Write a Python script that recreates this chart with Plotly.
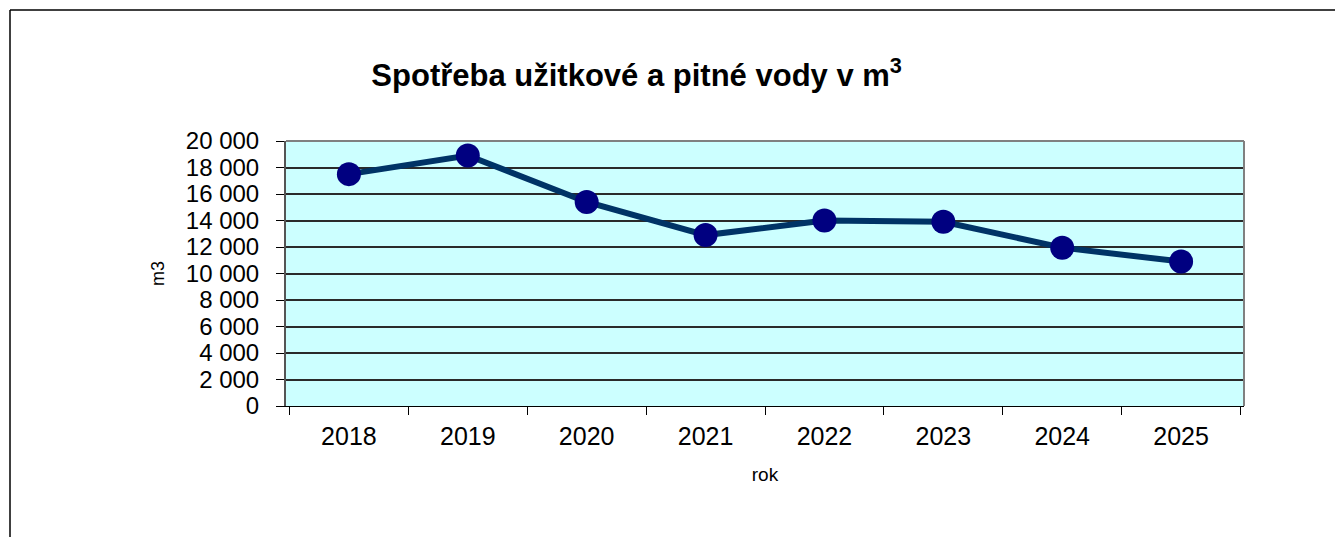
import plotly.graph_objects as go

# data
years = ["2018", "2019", "2020", "2021", "2022", "2023", "2024", "2025"]
water_m3 = [17500, 18900, 15400, 12900, 14000, 13900, 11950, 10900]

fig = go.Figure()

fig.add_trace(go.Scatter(
    x=years,
    y=water_m3,
    mode="lines+markers",
    line=dict(color="#003366", width=6),
    marker=dict(color="#000080", size=24, line=dict(width=0)),
    showlegend=False,
    cliponaxis=False,
))

# outer frame of the chart object (top and left edges visible)
fig.add_shape(type="line", xref="paper", yref="paper",
              x0=-0.2881, x1=1.12, y0=1.4943, y1=1.4943,
              line=dict(color="#000000", width=1.5))
fig.add_shape(type="line", xref="paper", yref="paper",
              x0=-0.2881, x1=-0.2881, y0=1.4943, y1=-0.55,
              line=dict(color="#000000", width=1.5))

# plot area border on top and right (grey)
fig.add_shape(type="line", xref="paper", yref="paper",
              x0=0, x1=1, y0=1, y1=1,
              line=dict(color="#808080", width=2))
fig.add_shape(type="line", xref="paper", yref="paper",
              x0=1, x1=1, y0=0, y1=1,
              line=dict(color="#808080", width=2))

fig.update_layout(
    width=1343,
    height=537,
    margin=dict(l=278, r=107, t=133, b=139),
    paper_bgcolor="white",
    plot_bgcolor="#CCFFFF",
    separators=", ",
    font=dict(family="Arial, Liberation Sans, sans-serif", color="#000000"),
    title=dict(
        text="<b>Spotřeba užitkové a pitné vody v m<sup>3</sup></b>",
        x=0.366, xref="paper", xanchor="center",
        y=0.875, yref="container", yanchor="middle",
        font=dict(size=31, color="#000000"),
    ),
    xaxis=dict(
        type="category",
        tickson="boundaries",
        ticks="outside",
        ticklen=8,
        tickcolor="#000000",
        showgrid=False,
        showline=True,
        linecolor="#000000",
        linewidth=1,
        tickfont=dict(size=25),
        ticklabelstandoff=8,
        title=dict(text="rok", font=dict(size=19), standoff=18),
        zeroline=False,
    ),
    yaxis=dict(
        range=[0, 20000],
        dtick=2000,
        tickformat=",d",
        ticks="outside",
        ticklen=8,
        tickcolor="#000000",
        showgrid=True,
        gridcolor="#2a2a2a",
        gridwidth=1.5,
        showline=True,
        linecolor="#555555",
        linewidth=2,
        zeroline=False,
        tickfont=dict(size=24),
        ticklabelstandoff=12,
        title=dict(text="m3", font=dict(size=18), standoff=16),
    ),
)

fig.write_html("out.html")
